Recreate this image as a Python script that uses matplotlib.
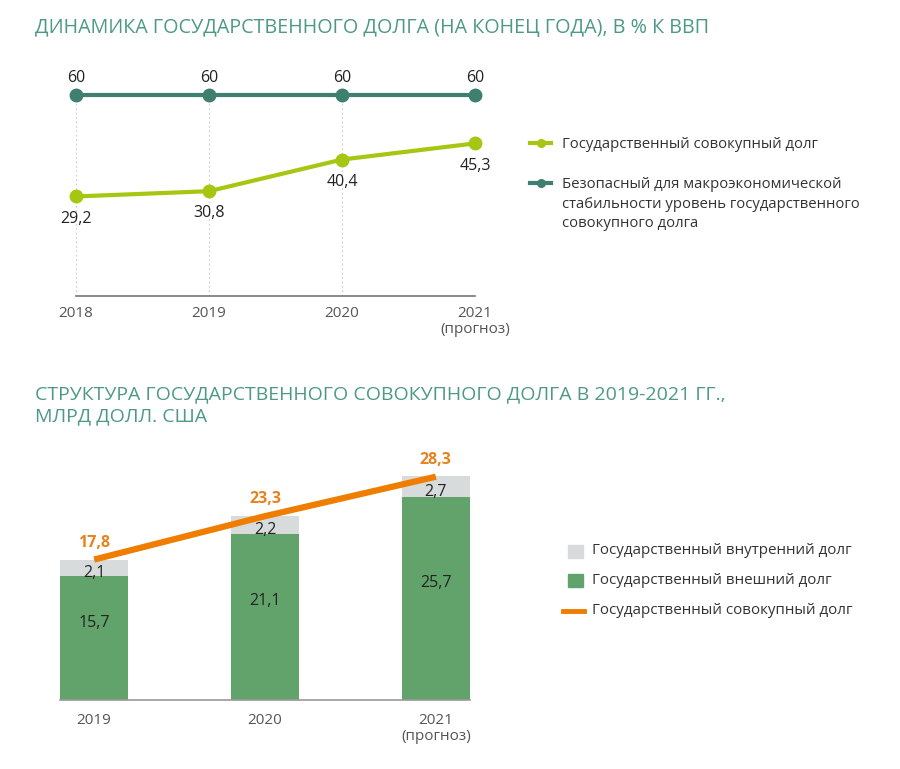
import matplotlib
matplotlib.use("Agg")
import matplotlib.pyplot as plt
from matplotlib.lines import Line2D
from matplotlib.patches import Rectangle

plt.rcParams['font.family'] = ['Open Sans', 'DejaVu Sans']

# --- данные: динамика госдолга, % к ВВП ---
years_top = [2018, 2019, 2020, 2021]
total_debt_pct = [29.2, 30.8, 40.4, 45.3]
safe_level_pct = [60, 60, 60, 60]
year_labels_top = ['2018', '2019', '2020', '2021\n(прогноз)']
legend_top = ['Государственный совокупный долг',
              'Безопасный для макроэкономической\nстабильности уровень государственного\nсовокупного долга']

# --- данные: структура госдолга, млрд долл. США ---
years_bot = ['2019', '2020', '2021\n(прогноз)']
external_debt = [15.7, 21.1, 25.7]
internal_debt = [2.1, 2.2, 2.7]
total_debt = [17.8, 23.3, 28.3]
legend_bot = ['Государственный внутренний долг', 'Государственный внешний долг',
              'Государственный совокупный долг']

TITLE_C = '#4d9985'
LIME = '#a6c712'
TEAL = '#3e7f70'
GRAY_BAR = '#d8dbdb'
GREEN_BAR = '#62a36c'
ORANGE = '#ef7d00'
ORANGE_TXT = '#e8821e'
TXT = '#222222'
TICK = '#555555'
LEG = '#333333'

W, H = 900, 769
fig = plt.figure(figsize=(W / 100, H / 100), dpi=100)


# пиксели -> координаты фигуры
def fx(px):
    return px / W


def fy(py):
    return 1 - py / H


def fmt(v):
    return f'{v}'.replace('.', ',')


# заголовки
fig.text(fx(35), fy(28), 'ДИНАМИКА ГОСУДАРСТВЕННОГО ДОЛГА (НА КОНЕЦ ГОДА), В % К ВВП',
         color=TITLE_C, fontsize=14.2, va='center', ha='left')
fig.text(fx(35), fy(405), 'СТРУКТУРА ГОСУДАРСТВЕННОГО СОВОКУПНОГО ДОЛГА В 2019-2021 ГГ.,\nМЛРД ДОЛЛ. США',
         color=TITLE_C, fontsize=14.0, va='center', ha='left', linespacing=1.3)

# ===== верхний график =====
ax1 = fig.add_axes([fx(76), fy(296), fx(399), 206 / H])
ax1.set_xlim(2018, 2021)
ax1.set_ylim(-1.0, 61.5)
for x in years_top:
    ax1.plot([x, x], [-1.0, 60], color='#cccccc', lw=0.8, ls=(0, (1.5, 2.5)), zorder=1)
ax1.plot(years_top, safe_level_pct, color=TEAL, lw=3, marker='o', ms=9,
         clip_on=False, zorder=3)
ax1.plot(years_top, total_debt_pct, color=LIME, lw=3, marker='o', ms=9,
         clip_on=False, zorder=3)
for x, v in zip(years_top, safe_level_pct):
    ax1.annotate(str(v), (x, v), xytext=(0, 12), textcoords='offset points',
                 ha='center', va='center', fontsize=11.5, color=TXT)
for x, v in zip(years_top, total_debt_pct):
    ax1.annotate(fmt(v), (x, v), xytext=(0, -16), textcoords='offset points',
                 ha='center', va='center', fontsize=11.5, color=TXT)
for s in ['top', 'right', 'left']:
    ax1.spines[s].set_visible(False)
ax1.spines['bottom'].set_color('#777777')
ax1.spines['bottom'].set_linewidth(1.2)
ax1.set_yticks([])
ax1.set_xticks(years_top)
ax1.set_xticklabels(year_labels_top, fontsize=11, color=TICK, linespacing=1.15)
ax1.tick_params(axis='x', length=0, pad=7)

# легенда верхнего графика
for (py, color), label in zip([(143, LIME), (183, TEAL)], legend_top):
    fig.add_artist(Line2D([fx(530), fx(551)], [fy(py), fy(py)], color=color, lw=3,
                          transform=fig.transFigure))
    fig.add_artist(Line2D([fx(541)], [fy(py)], color=color, marker='o', ms=5.5,
                          transform=fig.transFigure))
    fig.text(fx(562), fy(py - 6), label, fontsize=10.7, color=LEG, ha='left', va='top',
             linespacing=1.42)

# ===== нижний график =====
ax2 = fig.add_axes([fx(60), fy(700), fx(410), 30 * 7.89 / H])
xb = range(len(years_bot))
ax2.bar(xb, external_debt, width=0.4, color=GREEN_BAR, zorder=2)
ax2.bar(xb, internal_debt, width=0.4, bottom=external_debt, color=GRAY_BAR, zorder=2)
ax2.plot(xb, total_debt, color=ORANGE, lw=4.5, solid_capstyle='butt', zorder=4)
ax2.set_xlim(-0.2, 2.2)
ax2.set_ylim(0, 30)
for x, e, i, t in zip(xb, external_debt, internal_debt, total_debt):
    ax2.annotate(fmt(e), (x, e / 2), xytext=(0, 11), textcoords='offset points',
                 ha='center', va='center', fontsize=11.5, color=TXT)
    ax2.annotate(fmt(i), (x, e + i / 2), xytext=(0, -4), textcoords='offset points',
                 ha='center', va='center', fontsize=11.5, color=TXT, zorder=5)
    ax2.annotate(fmt(t), (x, t), xytext=(0, 12), textcoords='offset points',
                 ha='center', va='center', fontsize=11.5, color=ORANGE_TXT, fontweight='bold')
for s in ['top', 'right', 'left']:
    ax2.spines[s].set_visible(False)
ax2.spines['bottom'].set_color('#999999')
ax2.spines['bottom'].set_linewidth(1.2)
ax2.set_yticks([])
ax2.set_xticks(list(xb))
ax2.set_xticklabels(years_bot, fontsize=11, color=TICK, linespacing=1.15)
ax2.tick_params(axis='x', length=0, pad=9)

# легенда нижнего графика
fig.add_artist(Rectangle((fx(568), fy(558)), fx(15), 13 / H, color=GRAY_BAR,
                         transform=fig.transFigure))
fig.add_artist(Rectangle((fx(568), fy(587)), fx(15), 13 / H, color=GREEN_BAR,
                         transform=fig.transFigure))
fig.add_artist(Line2D([fx(563), fx(584)], [fy(611), fy(611)], color=ORANGE, lw=3.5,
                      transform=fig.transFigure))
for py, label in zip([551, 580, 611], legend_bot):
    fig.text(fx(592), fy(py), label, fontsize=10.9, color=LEG, ha='left', va='center')

fig.savefig('out.png', dpi=100, facecolor='white')
